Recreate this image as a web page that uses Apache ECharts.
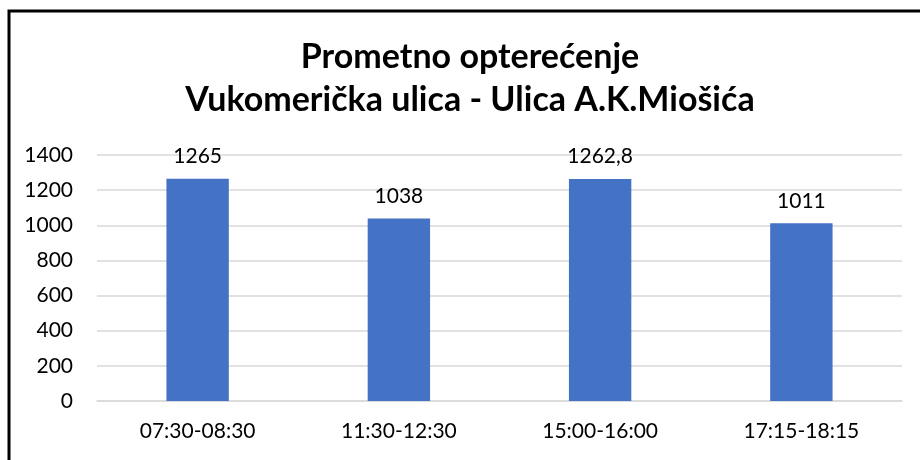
<!DOCTYPE html>
<html>
<head>
<meta charset="utf-8">
<script src="https://cdn.jsdelivr.net/npm/echarts@6/dist/echarts.min.js"></script>
<style>
  html, body { margin: 0; padding: 0; background: #fff; }
  #chart { width: 920px; height: 460px; }
</style>
</head>
<body>
<div id="chart"></div>
<script>
// Prometno opterećenje
const titleLines = ['Prometno opterećenje', 'Vukomerička ulica - Ulica A.K.Miošića'];
const categories = ['07:30-08:30', '11:30-12:30', '15:00-16:00', '17:15-18:15'];
const values = [1265, 1038, 1262.8, 1011];
const yTicks = { min: 0, max: 1400, interval: 200 };

const FONT = 'Lato, "Liberation Sans", sans-serif';

const chart = echarts.init(document.getElementById('chart'));

const options = {
  animation: false,
  backgroundColor: '#fff',
  textStyle: { fontFamily: FONT },
  graphic: [
    // chart frame (only top and left edges are inside the picture)
    {
      type: 'rect',
      shape: { x: 9, y: 11, width: 1000, height: 1000 },
      style: { fill: 'none', stroke: '#000', lineWidth: 3 },
      silent: true,
    },
    {
      type: 'text',
      style: {
        text: titleLines[0], x: 470, y: 57,
        textAlign: 'center', textVerticalAlign: 'middle',
        font: 'bold 34px ' + FONT, fill: '#000',
      },
    },
    {
      type: 'text',
      style: {
        text: titleLines[1], x: 470, y: 100,
        textAlign: 'center', textVerticalAlign: 'middle',
        font: 'bold 34px ' + FONT, fill: '#000',
      },
    },
  ],
  grid: { left: 97, right: 18, top: 155, bottom: 59 },
  xAxis: {
    type: 'category',
    data: categories,
    axisLine: { lineStyle: { color: '#D9D9D9', width: 1.5 } },
    axisTick: { show: false },
    axisLabel: { color: '#000', fontSize: 21, margin: 20, fontFamily: FONT },
  },
  yAxis: {
    type: 'value',
    min: yTicks.min,
    max: yTicks.max,
    interval: yTicks.interval,
    axisLine: { show: false },
    axisTick: { show: false },
    splitLine: { lineStyle: { color: '#D9D9D9', width: 1.5 } },
    axisLabel: {
      color: '#000', fontSize: 21, margin: 24, fontFamily: FONT,
      formatter: v => String(v),
    },
  },
  series: [
    {
      type: 'bar',
      data: values,
      barWidth: '31%',
      itemStyle: { color: '#4472C4' },
      label: {
        show: true,
        position: 'top',
        distance: 12,
        color: '#000',
        fontSize: 21,
        fontFamily: FONT,
        formatter: p => String(p.value).replace('.', ','),
      },
    },
  ],
};

chart.setOption(options);
</script>
</body>
</html>
